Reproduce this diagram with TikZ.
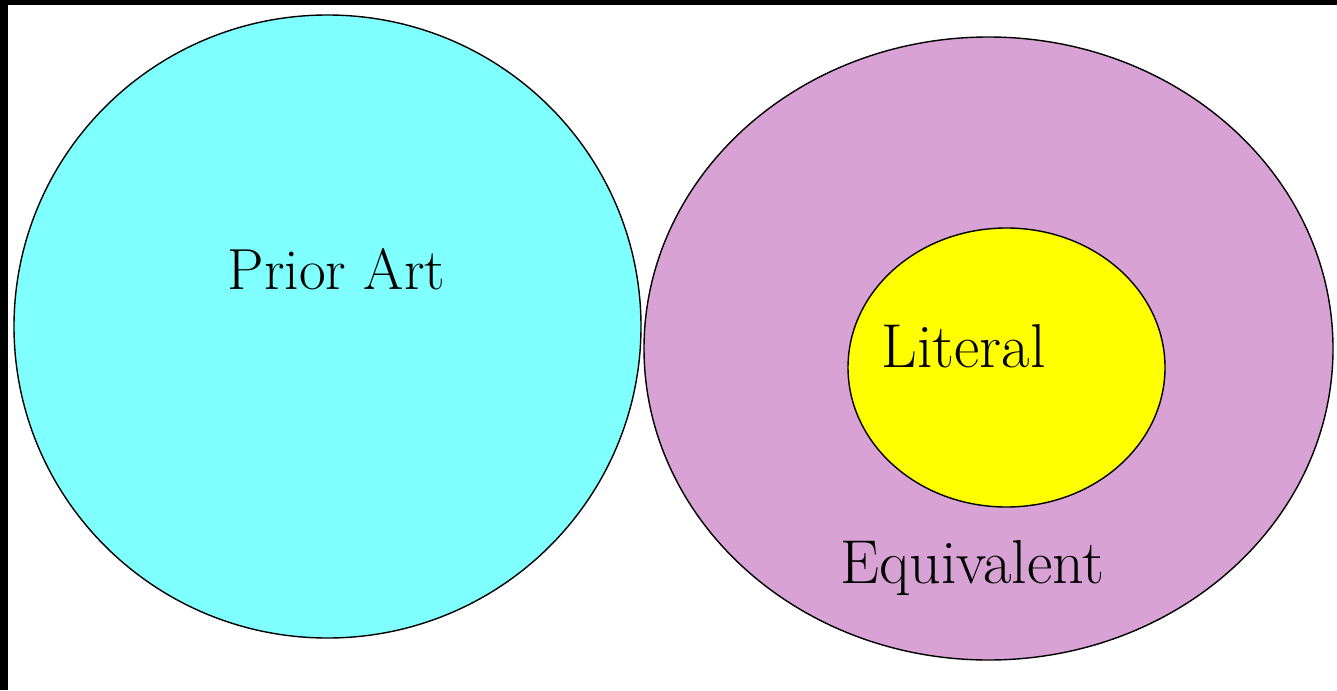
\documentclass[tikz,border=0pt]{standalone}
\usepackage{fontspec}
\usetikzlibrary{shapes.geometric}
\definecolor{ArtCyan}{HTML}{80FFFF}
\definecolor{EquivPlum}{HTML}{D9A2D5}
\definecolor{LitYellow}{HTML}{FFFF00}

\begin{document}
\begin{tikzpicture}[x=0.5pt, y=-0.5pt,
  zone/.style={ellipse, draw=black, line width=0.7pt, inner sep=0pt},
  lbl/.style={anchor=base, inner sep=0pt, font=\fontsize{31}{37}\selectfont}
]
  %% frame
  \fill[black] (0,0) rectangle (1337,690);
  \fill[white] (8,5) rectangle (1337,690);
  \useasboundingbox (0,0) rectangle (1337,690);

  %% zones
  \node[zone, fill=ArtCyan, minimum width=313.5pt, minimum height=311.5pt] (prior) at (327.5,326.5) {};
  \node[zone, fill=EquivPlum, minimum width=344.5pt, minimum height=311.5pt] (equiv) at (988.5,348.5) {};
  \node[zone, fill=LitYellow, minimum width=158.5pt, minimum height=139.5pt] (literal) at (1006.5,367.5) {};

  %% labels
  \node[lbl, font=\fontsize{29}{35}\selectfont] (priorlbl) at (336.5,289) {Prior Art};
  \node[lbl] (literallbl) at (963.5,367) {Literal};
  \node[lbl] (equivlbl) at (972.5,583) {Equivalent};
\end{tikzpicture}
\end{document}
